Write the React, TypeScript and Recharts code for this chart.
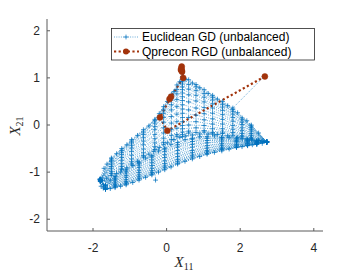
import { ComposedChart, Line, XAxis, YAxis } from "recharts";

type Pt = [number, number];

const xTicks = [-2, 0, 2, 4];
const yTicks = [-2, -1, 0, 1, 2];
const xDomain = [-3.25, 4.25];
const yDomain = [-2.25, 2.25];

// Euclidean GD: start point, then the loops it keeps circling (outer loop first, inner fold last)
const gdStart: Pt[] = [[2.65, 1.03]];
const gdLoop0: Pt[] = [
  [1.8, 0.36], [1.52, 0.5], [1.25, 0.63], [1.02, 0.75], [0.8, 0.86], [0.6, 0.96], [0.43, 1.03],
  [0.28, 0.85], [0.13, 0.65], [-0.08, 0.39], [-0.32, 0.12], [-0.63, -0.1], [-0.95, -0.31],
  [-1.22, -0.5], [-1.5, -0.7], [-1.7, -0.92], [-1.82, -1.15], [-1.78, -1.3], [-1.66, -1.37],
  [-1.4, -1.33], [-1.1, -1.27], [-0.75, -1.17], [-0.4, -1.06], [-0.05, -0.95], [0.3, -0.83],
  [0.7, -0.72], [1.1, -0.62], [1.5, -0.55], [1.9, -0.48], [2.2, -0.44], [2.45, -0.41], [2.72, -0.36],
];
const gdLoop1: Pt[] = [
  [2.5, -0.17], [2.18, 0.09], [1.93, 0.26], [1.66, 0.41], [1.38, 0.55], [1.13, 0.67], [0.9, 0.79],
  [0.7, 0.89], [0.52, 0.97], [0.43, 1.0], [0.36, 0.92], [0.2, 0.71], [0.02, 0.5], [-0.2, 0.24],
  [-0.48, -0.02], [-0.79, -0.22], [-1.08, -0.42], [-1.36, -0.61], [-1.62, -0.83], [-1.8, -1.15],
  [-1.72, -1.34], [-1.53, -1.35], [-1.25, -1.3], [-0.92, -1.22], [-0.57, -1.11], [-0.22, -1.0],
  [0.12, -0.89], [0.5, -0.77], [0.9, -0.67], [1.3, -0.58], [1.7, -0.51], [2.05, -0.46],
  [2.33, -0.42], [2.6, -0.39], [2.72, -0.36],
];
const gdLoop2: Pt[] = [
  [2.3, 0.0], [1.8, 0.33], [1.25, 0.59], [0.8, 0.81], [0.43, 0.97], [0.13, 0.6], [-0.32, 0.09],
  [-0.95, -0.34], [-1.5, -0.72], [-1.8, -1.15], [-1.66, -1.36], [-1.1, -1.25], [-0.4, -1.04],
  [0.3, -0.81], [1.1, -0.6], [1.9, -0.47], [2.45, -0.41], [2.72, -0.36],
];
const gdLoop3: Pt[] = [
  [2.05, 0.15], [1.52, 0.44], [1.02, 0.67], [0.6, 0.86], [0.43, 0.92], [0.28, 0.75], [-0.08, 0.32],
  [-0.63, -0.15], [-1.22, -0.54], [-1.8, -1.15], [-1.4, -1.31], [-0.75, -1.14], [-0.05, -0.91],
  [0.7, -0.68], [1.5, -0.52], [2.2, -0.43], [2.72, -0.36],
];
const gdLoop4: Pt[] = [
  [2.3, -0.02], [1.8, 0.29], [1.25, 0.53], [0.8, 0.73], [0.43, 0.87], [0.13, 0.53], [-0.32, 0.04],
  [-0.95, -0.38], [-1.5, -0.75], [-1.8, -1.16], [-1.66, -1.36], [-1.1, -1.23], [-0.4, -1.01],
  [0.3, -0.77], [1.1, -0.57], [1.9, -0.45], [2.45, -0.4], [2.72, -0.36],
];
const gdLoop5: Pt[] = [
  [2.05, 0.11], [1.52, 0.38], [1.02, 0.59], [0.6, 0.76], [0.43, 0.81], [0.28, 0.66], [-0.08, 0.25],
  [-0.63, -0.2], [-1.22, -0.58], [-1.8, -1.16], [-1.4, -1.29], [-0.75, -1.1], [-0.05, -0.87],
  [0.7, -0.64], [1.5, -0.5], [2.2, -0.42], [2.72, -0.36],
];
const gdLoop6: Pt[] = [
  [2.3, -0.05], [1.8, 0.23], [1.25, 0.45], [0.8, 0.63], [0.43, 0.75], [0.13, 0.43], [-0.32, -0.03],
  [-0.95, -0.43], [-1.5, -0.78], [-1.8, -1.16], [-1.66, -1.35], [-1.1, -1.2], [-0.4, -0.97],
  [0.3, -0.73], [1.1, -0.54], [1.9, -0.43], [2.45, -0.39], [2.72, -0.36],
];
const gdLoop7: Pt[] = [
  [2.05, 0.06], [1.52, 0.31], [1.02, 0.49], [0.6, 0.64], [0.43, 0.68], [0.28, 0.54], [-0.08, 0.16],
  [-0.63, -0.27], [-1.22, -0.63], [-1.8, -1.16], [-1.4, -1.26], [-0.75, -1.06], [-0.05, -0.82],
  [0.7, -0.59], [1.5, -0.47], [2.2, -0.4], [2.72, -0.36],
];
const gdLoop8: Pt[] = [
  [2.3, -0.09], [1.8, 0.16], [1.25, 0.36], [0.8, 0.51], [0.43, 0.6], [0.13, 0.32], [-0.32, -0.1],
  [-0.95, -0.49], [-1.5, -0.83], [-1.8, -1.17], [-1.66, -1.33], [-1.1, -1.16], [-0.4, -0.92],
  [0.3, -0.67], [1.1, -0.49], [1.9, -0.41], [2.45, -0.38], [2.72, -0.36],
];
const gdLoop9: Pt[] = [
  [2.05, 0.01], [1.52, 0.22], [1.02, 0.37], [0.6, 0.49], [0.43, 0.52], [0.28, 0.39], [-0.08, 0.06],
  [-0.63, -0.34], [-1.22, -0.69], [-1.8, -1.17], [-1.4, -1.23], [-0.75, -1.01], [-0.05, -0.76],
  [0.7, -0.54], [1.5, -0.43], [2.2, -0.39], [2.72, -0.36],
];
const gdLoop10: Pt[] = [
  [2.3, -0.13], [1.8, 0.08], [1.25, 0.25], [0.8, 0.36], [0.43, 0.43], [0.13, 0.18], [-0.32, -0.2],
  [-0.95, -0.56], [-1.5, -0.88], [-1.8, -1.17], [-1.66, -1.32], [-1.1, -1.11], [-0.4, -0.86],
  [0.3, -0.61], [1.1, -0.44], [1.9, -0.38], [2.45, -0.37], [2.72, -0.36],
];
const gdLoop11: Pt[] = [
  [2.05, -0.06], [1.52, 0.12], [1.02, 0.24], [0.6, 0.32], [0.43, 0.34], [0.28, 0.23], [-0.08, -0.06],
  [-0.63, -0.42], [-1.22, -0.75], [-1.8, -1.18], [-1.4, -1.19], [-0.75, -0.96], [-0.05, -0.69],
  [0.7, -0.47], [1.5, -0.39], [2.2, -0.37], [2.72, -0.36],
];
const gdLoop12: Pt[] = [
  [2.3, -0.18], [1.8, -0.01], [1.25, 0.13], [0.8, 0.21], [0.43, 0.25], [0.13, 0.04], [-0.32, -0.29],
  [-0.95, -0.64], [-1.5, -0.93], [-1.8, -1.18], [-1.66, -1.3], [-1.1, -1.07], [-0.4, -0.8],
  [0.3, -0.54], [1.1, -0.38], [1.9, -0.35], [2.45, -0.36], [2.72, -0.36],
];
const gdLoop13: Pt[] = [
  [2.05, -0.12], [1.52, 0.02], [1.02, 0.11], [0.6, 0.16], [0.43, 0.16], [0.28, 0.07], [-0.08, -0.17],
  [-0.63, -0.51], [-1.22, -0.82], [-1.8, -1.18], [-1.4, -1.16], [-0.75, -0.9], [-0.05, -0.63],
  [0.7, -0.41], [1.5, -0.34], [2.2, -0.35], [2.72, -0.36],
];
const gdLoop14: Pt[] = [
  [2.3, -0.22], [1.8, -0.09], [1.25, 0.02], [0.8, 0.07], [0.43, 0.07], [0.13, -0.1], [-0.32, -0.38],
  [-0.95, -0.72], [-1.5, -0.99], [-1.8, -1.19], [-1.66, -1.29], [-1.1, -1.02], [-0.4, -0.74],
  [0.3, -0.47], [1.1, -0.33], [1.9, -0.33], [2.45, -0.35], [2.72, -0.36],
];
const gdLoop15: Pt[] = [
  [2.05, -0.18], [1.52, -0.08], [1.02, -0.01], [0.6, 0.0], [0.43, -0.01], [0.28, -0.07], [-0.08, -0.28],
  [-0.63, -0.59], [-1.22, -0.88], [-1.8, -1.19], [-1.4, -1.13], [-0.75, -0.85], [-0.05, -0.56],
  [0.7, -0.35], [1.5, -0.3], [2.2, -0.33], [2.72, -0.36],
];
const gdLoop16: Pt[] = [
  [2.3, -0.26], [1.8, -0.16], [1.25, -0.08], [0.8, -0.06], [0.43, -0.08], [0.13, -0.22], [-0.32, -0.46],
  [-0.95, -0.78], [-1.5, -1.03], [-1.8, -1.19], [-1.66, -1.28], [-1.1, -0.98], [-0.4, -0.68],
  [0.3, -0.42], [1.1, -0.28], [1.9, -0.3], [2.45, -0.34], [2.72, -0.36],
];
const gdLoop17: Pt[] = [
  [2.05, -0.23], [1.52, -0.15], [1.02, -0.12], [0.6, -0.13], [0.43, -0.15], [0.28, -0.2], [-0.08, -0.37],
  [-0.63, -0.65], [-1.22, -0.93], [-1.8, -1.2], [-1.4, -1.1], [-0.75, -0.81], [-0.05, -0.51],
  [0.7, -0.3], [1.5, -0.27], [2.2, -0.32], [2.72, -0.36],
];
const gdLoop18: Pt[] = [
  [2.5, -0.32], [2.3, -0.29], [2.05, -0.25], [1.8, -0.22], [1.52, -0.18], [1.25, -0.16], [1.02, -0.15],
  [0.8, -0.16], [0.6, -0.17], [0.43, -0.2], [0.28, -0.24], [0.13, -0.31], [-0.08, -0.41], [-0.32, -0.52],
  [-0.63, -0.68], [-0.95, -0.83], [-1.22, -0.95], [-1.5, -1.07], [-1.8, -1.2], [-1.66, -1.27],
  [-1.4, -1.09], [-1.1, -0.95], [-0.75, -0.79], [-0.4, -0.65], [-0.05, -0.49], [0.3, -0.37],
  [0.7, -0.28], [1.1, -0.25], [1.5, -0.26], [1.9, -0.28], [2.2, -0.31], [2.45, -0.33], [2.72, -0.36],
];
const gdLoop19: Pt[] = [
  [2.5, -0.33], [2.18, -0.29], [1.93, -0.26], [1.66, -0.23], [1.38, -0.2], [1.13, -0.19], [0.9, -0.19],
  [0.7, -0.21], [0.52, -0.23], [0.36, -0.26], [0.2, -0.31], [0.02, -0.38], [-0.2, -0.48], [-0.48, -0.62],
  [-0.79, -0.77], [-1.08, -0.91], [-1.36, -1.03], [-1.62, -1.13], [-1.8, -1.2], [-1.72, -1.27],
  [-1.53, -1.17], [-1.25, -1.0], [-0.92, -0.86], [-0.57, -0.7], [-0.22, -0.55], [0.12, -0.41],
  [0.5, -0.31], [0.9, -0.25], [1.3, -0.23], [1.7, -0.26], [2.05, -0.29], [2.33, -0.32], [2.6, -0.34],
  [2.72, -0.36],
];
const gdEnd: Pt[] = [[2.3, -0.3], [1.25, -0.19], [0.43, -0.25], [-0.35, -0.56], [-0.3, -1.17]];

// Qprecon RGD
const rgdPath: Pt[] = [
  [2.67, 1.03], [0.02, -0.12], [-0.18, 0.16], [0.08, 0.55], [0.12, 0.6], [0.45, 1.0],
  [0.41, 1.24], [0.39, 1.17], [0.42, 1.13], [0.4, 1.2], [0.41, 1.16],
];

const toRows = (pts: Pt[]) => pts.map(([x, y]) => ({ x, y }));
const gdData = toRows([
  ...gdStart, ...gdLoop0, ...gdLoop1, ...gdLoop2, ...gdLoop3, ...gdLoop4, ...gdLoop5, ...gdLoop6,
  ...gdLoop7, ...gdLoop8, ...gdLoop9, ...gdLoop10, ...gdLoop11, ...gdLoop12, ...gdLoop13,
  ...gdLoop14, ...gdLoop15, ...gdLoop16, ...gdLoop17, ...gdLoop18, ...gdLoop19, ...gdEnd,
]);
const rgdData = toRows(rgdPath);

const BLUE = "#0072BD";
const RED = "#A2330B";
const AXIS = "#5a5a5a";
const sans = "'Liberation Sans', Arial, sans-serif";
const serif = "'Liberation Serif', 'Times New Roman', serif";

const PlusDot = (p: any) => {
  const { cx, cy, index } = p;
  if (cx == null || cy == null) return <g key={"p" + index} />;
  return (
    <path key={"p" + index} d={`M${cx - 2.4},${cy}H${cx + 2.4}M${cx},${cy - 2.4}V${cy + 2.4}`}
      stroke={BLUE} strokeWidth={0.75} fill="none" />
  );
};

const CircleDot = (p: any) => {
  const { cx, cy, index } = p;
  if (cx == null || cy == null) return <g key={"c" + index} />;
  return <circle key={"c" + index} cx={cx} cy={cy} r={3} fill={RED} stroke={RED} strokeWidth={0.5} />;
};

const tickStyle = { fill: "#262626", fontSize: 12, fontFamily: sans };

export default function App() {
  return (
    <div style={{ position: "absolute", left: 0, top: 0, width: 357, height: 273, background: "#fff" }}>
      <ComposedChart width={357} height={273} margin={{ top: 19, right: 34, bottom: 0, left: 0 }}>
        <XAxis xAxisId="b" type="number" dataKey="x" domain={xDomain} ticks={xTicks} interval={0}
          allowDataOverflow height={42} tickSize={-3} tickMargin={15} stroke={AXIS} tick={tickStyle} />
        <XAxis xAxisId="t" orientation="top" type="number" dataKey="x" domain={xDomain} ticks={xTicks}
          interval={0} allowDataOverflow height={0} tickSize={-3} tick={false} stroke={AXIS} />
        <YAxis yAxisId="l" type="number" dataKey="y" domain={yDomain} ticks={yTicks} interval={0}
          allowDataOverflow width={47} tickSize={-3} tickMargin={10} stroke={AXIS} tick={tickStyle} />
        <YAxis yAxisId="r" orientation="right" type="number" dataKey="y" domain={yDomain} ticks={yTicks}
          interval={0} allowDataOverflow width={0} tickSize={-3} tick={false} stroke={AXIS} />
        <Line xAxisId="b" yAxisId="l" data={gdData} dataKey="y" type="linear" stroke={BLUE}
          strokeWidth={0.6} strokeDasharray="1 1.3" dot={PlusDot} activeDot={false} isAnimationActive={false} />
        <Line xAxisId="b" yAxisId="l" data={rgdData} dataKey="y" type="linear" stroke={RED}
          strokeWidth={2.2} strokeDasharray="2.2 2.4" dot={CircleDot} activeDot={false} isAnimationActive={false} />
      </ComposedChart>
      <svg width={357} height={273} style={{ position: "absolute", left: 0, top: 0, pointerEvents: "none" }}>
        <rect x={111.5} y={28.5} width={203} height={31.5} fill="#fff" stroke="#262626" strokeWidth={0.8} />
        <line x1={114} y1={37} x2={139} y2={37} stroke={BLUE} strokeWidth={0.6} strokeDasharray="1 1.3" />
        <path d="M123.6,37H128.4M126,34.6V39.4" stroke={BLUE} strokeWidth={0.75} />
        <text x={142} y={41.2} fontFamily={sans} fontSize={12} fill="#000">Euclidean GD (unbalanced)</text>
        <line x1={114} y1={51.5} x2={139} y2={51.5} stroke={RED} strokeWidth={2.2} strokeDasharray="2.2 2.4" />
        <circle cx={126} cy={51.5} r={3} fill={RED} />
        <text x={142} y={55.7} fontFamily={sans} fontSize={12} fill="#000">Qprecon RGD (unbalanced)</text>
        <text x={184} y={267} textAnchor="middle" fontFamily={serif} fontSize={15} fill="#262626">
          <tspan fontStyle="italic">X</tspan>
          <tspan fontSize={10} dy={3}>11</tspan>
        </text>
        <text transform="translate(20,126) rotate(-90)" textAnchor="middle" fontFamily={serif} fontSize={15} fill="#262626">
          <tspan fontStyle="italic">X</tspan>
          <tspan fontSize={10} dy={3}>21</tspan>
        </text>
      </svg>
    </div>
  );
}
